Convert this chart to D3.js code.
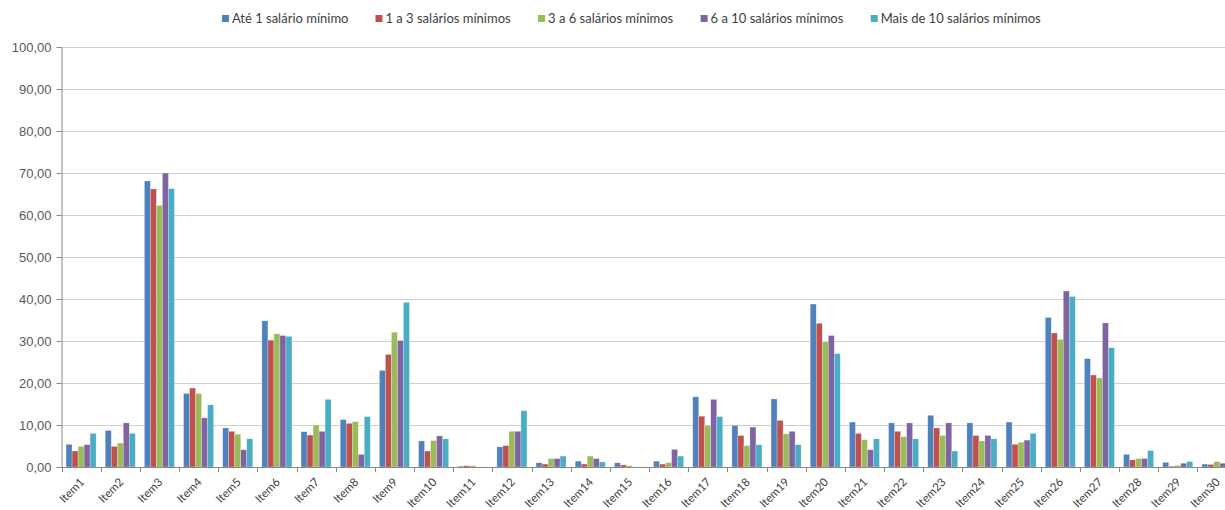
<!DOCTYPE html>
<html>
<head>
<meta charset="utf-8">
<script src="https://cdn.jsdelivr.net/npm/d3@7"></script>
<style>
  body { margin: 0; background: #fff; }
  svg { display: block; font-family: Lato, "Open Sans", sans-serif; }
</style>
</head>
<body>
<script>
const items = d3.range(1, 31).map(i => 'Item' + i);
const seriesNames = ['Até 1 salário mínimo', '1 a 3 salários mínimos', '3 a 6 salários mínimos', '6 a 10 salários mínimos', 'Mais de 10 salários mínimos'];
const colors = ['#4F81BD', '#C0504D', '#9BBB59', '#8064A2', '#4BACC6'];

const ate1 = [5.4, 8.7, 68.1, 17.5, 9.3, 34.8, 8.4, 11.3, 23.0, 6.2, 0.2, 4.8, 1.0, 1.4, 1.0, 1.4, 16.7, 9.9, 16.2, 38.8, 10.7, 10.5, 12.3, 10.5, 10.7, 35.6, 25.8, 3.0, 1.1, 0.7];
const de1a3 = [3.8, 4.9, 66.2, 18.8, 8.5, 30.2, 7.6, 10.4, 26.8, 3.8, 0.3, 5.1, 0.7, 0.7, 0.5, 0.7, 12.1, 7.5, 11.1, 34.2, 8.0, 8.5, 9.3, 7.5, 5.4, 31.9, 21.9, 1.7, 0.2, 0.6];
const de3a6 = [4.9, 5.7, 62.3, 17.5, 7.8, 31.7, 10.0, 10.8, 32.1, 6.3, 0.3, 8.5, 2.0, 2.6, 0.3, 1.0, 9.9, 5.1, 7.9, 29.8, 6.5, 7.2, 7.5, 6.2, 5.9, 30.4, 21.2, 2.0, 0.4, 1.3];
const de6a10 = [5.3, 10.5, 70.0, 11.7, 4.1, 31.3, 8.5, 3.0, 30.1, 7.4, 0, 8.5, 2.0, 2.0, 0, 4.2, 16.1, 9.5, 8.5, 31.3, 4.1, 10.5, 10.5, 7.5, 6.4, 41.9, 34.3, 2.0, 0.9, 0.9];
const mais10 = [8.0, 8.0, 66.3, 14.8, 6.7, 31.1, 16.1, 12.0, 39.2, 6.7, 0, 13.4, 2.6, 1.2, 0, 2.6, 12.0, 5.3, 5.3, 27.0, 6.7, 6.7, 3.8, 6.7, 8.0, 40.6, 28.4, 3.9, 1.3, 1.0];
const seriesValues = [ate1, de1a3, de3a6, de6a10, mais10];
const yTicks = [0, 10, 20, 30, 40, 50, 60, 70, 80, 90, 100];

const w = 1225, h = 510;
const plotLeft = 61.5, plotRight = 1236.5, plotTop = 47, plotBottom = 467;

const svg = d3.select('body').append('svg')
  .attr('width', w).attr('height', h)
  .style('overflow', 'hidden');

const x = d3.scaleBand().domain(items).range([plotLeft, plotRight])
  .paddingInner(0.233).paddingOuter(0.1165);
const xs = d3.scaleBand().domain(d3.range(5)).range([0, x.bandwidth()]);
const y = d3.scaleLinear().domain([0, 100]).range([plotBottom, plotTop]);

const fmt = v => d3.format('.2f')(v).replace('.', ',');

// gridlines
svg.append('g').selectAll('line')
  .data(yTicks.filter(d => d > 0))
  .join('line')
  .attr('x1', plotLeft).attr('x2', w)
  .attr('y1', d => Math.round(y(d)) + 0.5).attr('y2', d => Math.round(y(d)) + 0.5)
  .attr('stroke', '#d0d0d0').attr('stroke-width', 1);

// bars
const groups = svg.append('g').selectAll('g')
  .data(items)
  .join('g')
  .attr('transform', d => 'translate(' + x(d) + ',0)');

groups.selectAll('rect')
  .data((d, i) => seriesValues.map((s, k) => ({k: k, v: s[i]})))
  .join('rect')
  .attr('x', d => xs(d.k))
  .attr('y', d => y(d.v))
  .attr('width', xs.bandwidth())
  .attr('height', d => plotBottom - y(d.v))
  .attr('fill', d => colors[d.k])
  .attr('stroke', '#fff').attr('stroke-opacity', 0.5).attr('stroke-width', 0.5);

// y axis
const yAxis = d3.axisLeft(y).tickValues(yTicks).tickFormat(fmt).tickSize(5).tickPadding(5).tickSizeOuter(0);
const gy = svg.append('g').attr('transform', 'translate(' + plotLeft + ',0)').call(yAxis);
gy.select('.domain').attr('stroke', '#878787');
gy.selectAll('.tick line').attr('stroke', '#878787');
gy.selectAll('.tick text').attr('fill', '#595959').style('font-size', '13px');

// x axis
svg.append('line')
  .attr('x1', plotLeft).attr('x2', w)
  .attr('y1', plotBottom + 0.5).attr('y2', plotBottom + 0.5)
  .attr('stroke', '#878787');
svg.append('g').selectAll('line')
  .data(items)
  .join('line')
  .attr('x1', d => Math.round(x(d) - x.step() * 0.1165) + 0.5)
  .attr('x2', d => Math.round(x(d) - x.step() * 0.1165) + 0.5)
  .attr('y1', plotBottom).attr('y2', plotBottom + 5)
  .attr('stroke', '#878787');

svg.append('g').selectAll('text')
  .data(items)
  .join('text')
  .attr('transform', d => 'translate(' + (x(d) + x.bandwidth() / 2 + 1) + ',' + (plotBottom + 13) + ') rotate(-45)')
  .attr('text-anchor', 'end')
  .attr('dy', '0.35em')
  .attr('fill', '#404040')
  .style('font-size', '11.5px')
  .text(d => d);

// legend
const legend = svg.append('g');
const entries = legend.selectAll('g')
  .data(seriesNames)
  .join('g');
entries.append('rect')
  .attr('width', 7).attr('height', 7)
  .attr('y', 15)
  .attr('fill', (d, i) => colors[i]);
entries.append('text')
  .attr('x', 10).attr('y', 23)
  .attr('fill', '#404040')
  .style('font-size', '13px')
  .text(d => d);
let cx = 0;
const offsets = [];
entries.each(function() {
  offsets.push(cx);
  cx += this.getBBox().width + 27;
});
const legendStart = 631.5 - (cx - 27) / 2;
entries.attr('transform', (d, i) => 'translate(' + (legendStart + offsets[i]) + ',0)');
</script>
</body>
</html>
